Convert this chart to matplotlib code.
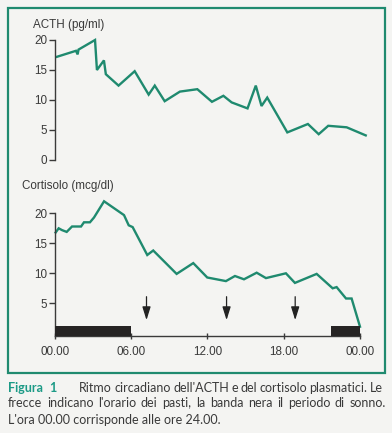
import numpy as np
import matplotlib as mpl
mpl.use('Agg')
import matplotlib.pyplot as plt
from matplotlib.patches import Rectangle

TEAL = '#1f8a6f'
INK = '#3a3a3a'
BG = '#f4f4f2'

W, H = 392, 433

# ACTH (pg/ml), hours from midnight
acth_hours = [0.15, 1.65, 1.78, 1.85, 3.15, 3.3, 3.85, 4.0, 5.0, 6.27, 7.37, 7.85, 8.63, 9.83,
              11.2, 12.35, 13.25, 13.9, 15.15, 15.8, 16.25, 16.7, 18.28, 19.9, 20.75, 21.5,
              22.95, 24.45]
acth_values = [17.2, 18.2, 17.6, 18.4, 20.0, 15.0, 16.6, 14.3, 12.4, 14.8, 10.9, 12.4, 9.8, 11.4,
               11.8, 9.7, 10.7, 9.6, 8.6, 12.4, 9.0, 10.4, 4.6, 6.0, 4.3, 5.7, 5.45, 4.1]

# cortisolo (mcg/dl)
cort_hours = [0.05, 0.29, 0.55, 0.92, 1.34, 2.05, 2.28, 2.75, 3.07, 3.86, 5.43, 5.8, 6.11, 7.26,
              7.73, 9.57, 10.88, 11.98, 13.45, 14.16, 14.87, 15.87, 16.6, 18.17, 18.88, 20.59,
              21.85, 22.16, 22.9, 23.34, 24.0]
cort_values = [16.8, 17.5, 17.2, 16.9, 17.8, 17.8, 18.5, 18.5, 19.3, 22.0, 19.7, 18.0, 17.7, 13.05,
               13.8, 9.9, 11.7, 9.3, 8.7, 9.55, 9.0, 10.1, 9.2, 10.0, 8.4, 9.9, 7.5, 7.7, 5.8,
               5.8, 1.1]

meal_hours = [7.2, 13.5, 18.9]
sleep_spans = [(0, 6), (21.75, 24)]
hour_ticks = [0, 6, 12, 18, 24]
hour_labels = ['00.00', '06.00', '12.00', '18.00', '00.00']

caption_lines = [
    "Ritmo circadiano dell'ACTH e del cortisolo plasmatici. Le",
    "frecce indicano l'orario dei pasti, la banda nera il periodo di sonno.",
    "L'ora 00.00 corrisponde alle ore 24.00.",
]

plt.rcParams['font.family'] = ['Liberation Sans', 'DejaVu Sans']
LABEL_SIZE = 8.4


def px_box(x0, y0, x1, y1):
    return [x0 / W, 1 - y1 / H, (x1 - x0) / W, (y1 - y0) / H]


def style_axis(ax, yticks, ymin):
    for side in ['top', 'right']:
        ax.spines[side].set_visible(False)
    ax.spines['left'].set_color(INK)
    ax.spines['left'].set_linewidth(1.0)
    ax.spines['left'].set_bounds(ymin, 20)
    ax.set_yticks(yticks)
    ax.set_yticks([20], minor=True)
    ax.tick_params(axis='y', which='major', direction='out', length=4, width=1.0,
                   color=INK, labelsize=LABEL_SIZE, labelcolor=INK, pad=1.5)
    ax.tick_params(axis='y', which='minor', direction='in', length=4, width=1.0, color=INK)
    ax.set_facecolor('none')
    ax.set_xlim(0, 24)


def justified_line(fig, text, x0, x1, y, **kw):
    """spread the words of one caption line between x0 and x1 (pixels)"""
    renderer = fig.canvas.get_renderer()
    words = text.split(' ')
    artists = [fig.text(0, 1 - y / H, w, va='center', ha='left', **kw) for w in words]
    widths = [a.get_window_extent(renderer).width for a in artists]
    gap = (x1 - x0 - sum(widths)) / (len(words) - 1)
    x = x0
    for a, w in zip(artists, widths):
        a.set_x(x / W)
        x += w + gap


fig = plt.figure(figsize=(W / 100, H / 100), dpi=100, facecolor=BG)

# ACTH panel
ax1 = fig.add_axes(px_box(55, 40, 360, 160))
ax1.plot(acth_hours, acth_values, color=TEAL, lw=1.7, clip_on=False, solid_joinstyle='miter')
ax1.set_ylim(0, 20)
style_axis(ax1, [0, 5, 10, 15, 20], 0)
ax1.set_yticks([0, 20], minor=True)
ax1.spines['bottom'].set_visible(False)
ax1.set_xticks([])
fig.text(33 / W, 1 - 25 / H, 'ACTH (pg/ml)', fontsize=LABEL_SIZE, color=INK, va='center', ha='left')

# cortisolo panel
ymin = -0.45
ax2 = fig.add_axes(px_box(55, 213.3, 360, 336))
ax2.plot(cort_hours, cort_values, color=TEAL, lw=1.7, clip_on=False, solid_joinstyle='miter')
ax2.set_ylim(ymin, 20)
style_axis(ax2, [5, 10, 15, 20], ymin)
ax2.spines['bottom'].set_color(INK)
ax2.spines['bottom'].set_linewidth(1.0)
ax2.set_xticks(hour_ticks)
ax2.set_xticklabels(hour_labels)
ax2.tick_params(axis='x', direction='inout', length=5, width=1.0, color=INK,
                labelsize=LABEL_SIZE, labelcolor=INK, pad=5)
for start, end in sleep_spans:
    ax2.bar(start, 1.65, width=end - start, bottom=ymin, align='edge',
            color='#262424', edgecolor='none', zorder=3)
for hour in meal_hours:
    ax2.annotate('', xy=(hour, 2.2), xytext=(hour, 6.1),
                 arrowprops=dict(arrowstyle='-|>,head_length=0.8,head_width=0.25',
                                 color='#222222', lw=0.9, shrinkA=0, shrinkB=0))
fig.text(22 / W, 1 - 186 / H, 'Cortisolo (mcg/dl)', fontsize=LABEL_SIZE, color=INK,
         va='center', ha='left')

# frame
fig.patches.append(Rectangle((8 / W, 1 - 373 / H), 377 / W, 365 / H, transform=fig.transFigure,
                             fill=False, edgecolor=TEAL, lw=1.6))

# caption
cap = dict(fontsize=9.0, family=['Lato', 'DejaVu Sans'])
fig.text(8 / W, 1 - 387.5 / H, 'Figura', color='#1c9a86', fontweight='bold',
         va='center', ha='left', **cap)
fig.text(49 / W, 1 - 387.5 / H, '1', color='#1c9a86', fontweight='bold',
         va='center', ha='left', **cap)
justified_line(fig, caption_lines[0], 79, 383, 387.5, color=INK, **cap)
justified_line(fig, caption_lines[1], 8, 386, 403, color=INK, **cap)
fig.text(8 / W, 1 - 419.5 / H, caption_lines[2], color=INK, va='center', ha='left', **cap)

fig.savefig('out.png', dpi=100, facecolor=BG)
